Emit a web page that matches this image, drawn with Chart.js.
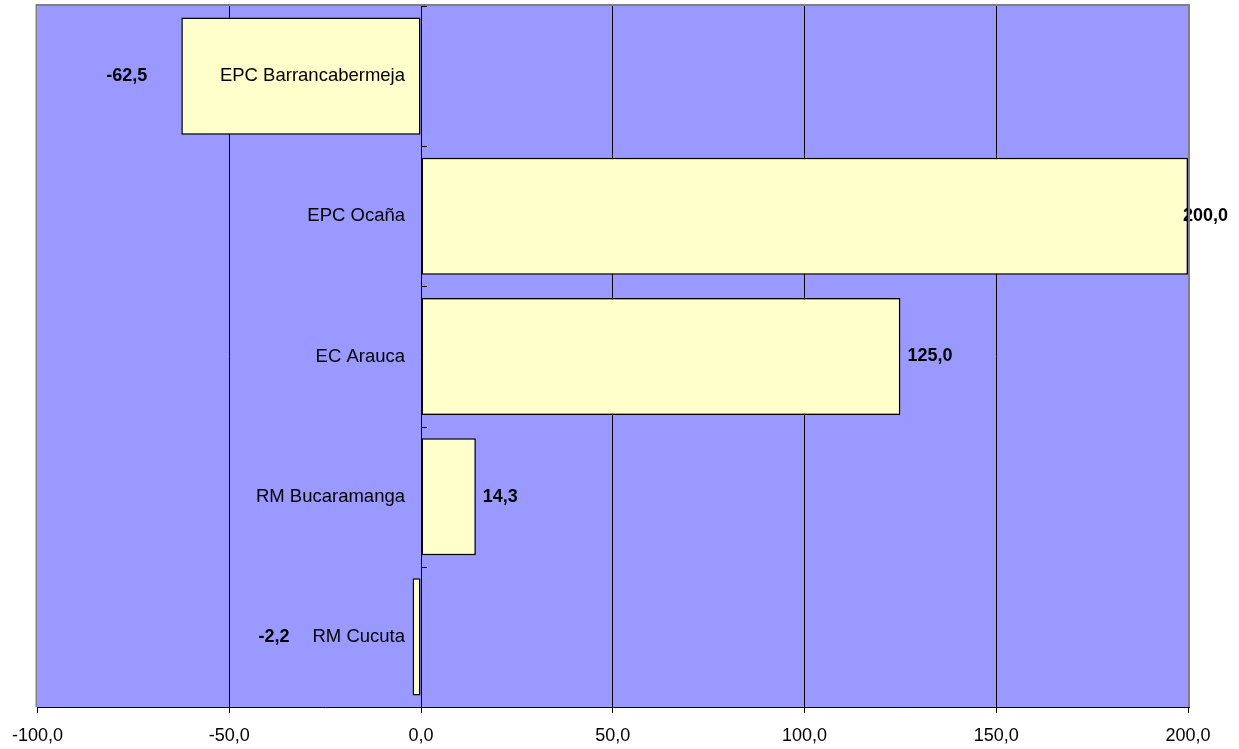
<!DOCTYPE html>
<html>
<head>
<meta charset="utf-8">
<script src="https://cdn.jsdelivr.net/npm/chart.js@4/dist/chart.umd.min.js"></script>
<style>
  html, body { margin: 0; padding: 0; background: #fff; }
  #wrap { width: 1239px; height: 749px; }
</style>
</head>
<body>
<div id="wrap"><canvas id="barChart" width="1239" height="749"></canvas></div>
<script>
const categories = ['EPC Barrancabermeja', 'EPC Ocaña', 'EC Arauca', 'RM Bucaramanga', 'RM Cucuta'];
const values = [-62.5, 200.0, 125.0, 14.3, -2.2];
const xMin = -100;
const xMax = 200;
const xStep = 50;

const FONT = 'Arial, "Liberation Sans", sans-serif';
const fmt = v => v.toFixed(1).replace('.', ',');

// fondo del area de trazado + borde gris
const plotBg = {
  id: 'plotBg',
  beforeDraw(chart) {
    const { ctx, chartArea: a } = chart;
    ctx.save();
    ctx.fillStyle = '#9999FF';
    ctx.fillRect(a.left, a.top, a.right - a.left, a.bottom - a.top);
    ctx.restore();
  },
  afterDraw(chart) {
    const { ctx, chartArea: a } = chart;
    ctx.save();
    ctx.strokeStyle = '#808080';
    ctx.lineWidth = 2;
    ctx.beginPath();
    ctx.moveTo(a.left - 1, a.bottom);
    ctx.lineTo(a.left - 1, a.top - 1);
    ctx.lineTo(a.right + 1, a.top - 1);
    ctx.lineTo(a.right + 1, a.bottom);
    ctx.stroke();
    ctx.strokeStyle = '#000';
    ctx.lineWidth = 1;
    ctx.beginPath();
    ctx.moveTo(a.left, a.bottom + 0.5);
    ctx.lineTo(a.right + 2, a.bottom + 0.5);
    ctx.stroke();
    ctx.restore();
  }
};

// etiquetas de categoria junto al eje cero y valores de cada barra
const barLabels = {
  id: 'barLabels',
  afterDatasetsDraw(chart) {
    const { ctx } = chart;
    const xs = chart.scales.x;
    const ys = chart.scales.y;
    const zero = xs.getPixelForValue(0);
    ctx.save();
    ctx.fillStyle = '#000';
    ctx.textBaseline = 'middle';

    // marcas del eje de categorias sobre la linea cero
    ctx.strokeStyle = '#000';
    ctx.lineWidth = 1;
    for (let i = 0; i <= categories.length; i++) {
      const y = Math.round(ys.getPixelForValue(i - 0.5)) + 0.5;
      ctx.beginPath();
      ctx.moveTo(zero, y);
      ctx.lineTo(zero + 6, y);
      ctx.stroke();
    }

    const meta = chart.getDatasetMeta(0);
    meta.data.forEach((bar, i) => {
      const y = bar.y;
      ctx.font = '18.5px ' + FONT;
      ctx.textAlign = 'right';
      const catRight = zero - 16;
      ctx.fillText(categories[i], catRight, y);
      const catLeft = catRight - ctx.measureText(categories[i]).width;

      const v = values[i];
      const txt = fmt(v);
      ctx.font = 'bold 18px ' + FONT;
      if (v < 0) {
        ctx.textAlign = 'right';
        const xr = Math.min(bar.x - 34, catLeft - 23);
        ctx.fillText(txt, xr, y);
      } else {
        ctx.textAlign = 'left';
        const w = ctx.measureText(txt).width;
        const xl = Math.min(bar.x + 7, chart.width - w - 11);
        ctx.fillText(txt, xl, y);
      }
    });
    ctx.restore();
  }
};

const ctx = document.getElementById('barChart').getContext('2d');
const chart = new Chart(ctx, {
  type: 'bar',
  data: {
    labels: categories,
    datasets: [{
      data: values,
      backgroundColor: '#FFFFCC',
      borderColor: '#000',
      borderWidth: 1.5,
      borderSkipped: false,
      categoryPercentage: 1.0,
      barPercentage: 0.835
    }]
  },
  options: {
    indexAxis: 'y',
    responsive: false,
    animation: false,
    events: [],
    layout: { padding: { left: 36, right: 51, top: 6, bottom: 0 } },
    plugins: { legend: { display: false }, tooltip: { enabled: false } },
    scales: {
      x: {
        type: 'linear',
        min: xMin,
        max: xMax,
        ticks: {
          stepSize: xStep,
          callback: v => fmt(v),
          color: '#000',
          font: { family: FONT, size: 18 },
          padding: 12,
          maxRotation: 0
        },
        grid: {
          color: c => (c.tick && (c.tick.value === xMin || c.tick.value === xMax)) ? 'rgba(0,0,0,0)' : '#000',
          tickColor: '#000',
          tickLength: 6,
          lineWidth: 1
        },
        border: { display: false },
        afterFit(scale) { scale.height = 42; }
      },
      y: {
        type: 'category',
        offset: true,
        ticks: { display: false },
        grid: { display: false },
        border: { display: false },
        afterFit(scale) { scale.width = 0; }
      }
    }
  },
  plugins: [plotBg, barLabels]
});
</script>
</body>
</html>
